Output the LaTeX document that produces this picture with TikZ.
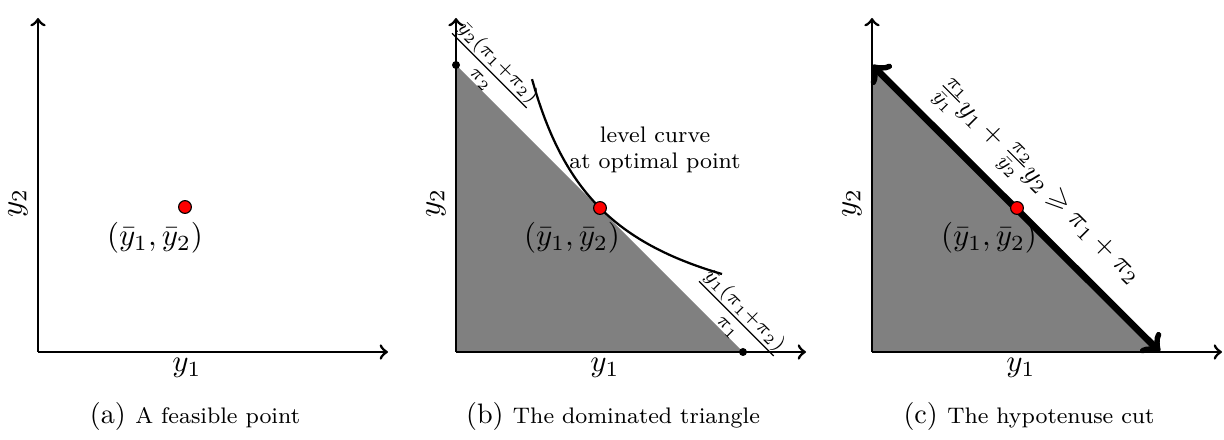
\documentclass[tikz,border=0pt]{standalone}
\usepackage{amsmath}
\usepackage{amssymb}
\usepackage{xcolor}
\usepackage{tikz}
\definecolor{cDot}{RGB}{255,0,0}
\definecolor{cRegion}{RGB}{128,128,128}

\begin{document}
\begin{tikzpicture}[x=0.0125cm,y=0.0125cm,
  axis/.style={line width=1pt,->},
  lbl/.style={font=\normalsize,scale=1.1},
  optpt/.style={circle,draw=black,fill=cDot,inner sep=0pt,minimum size=0.16cm},
  endpt/.style={circle,fill=black,inner sep=0pt,minimum size=0.1cm}]
\useasboundingbox (0,0) rectangle (1224,440);
% (a) a feasible point
\coordinate (oA) at (38,88);
\coordinate (yA) at (38,422);
\coordinate (xA) at (388,88);
\draw[axis] (oA) -- (yA);
\draw[axis] (oA) -- (xA);
\node[optpt] (ptA) at (185,233) {};
\node[lbl] (lblA) at (155,202) {$(\bar{y}_1,\bar{y}_2)$};
\node[lbl,rotate=90] (ytwoA) at (18,237) {$y_2$};
\node[lbl] (yoneA) at (187,72) {$y_1$};
\node (capA) at (195,24) {(a) {\footnotesize A feasible point}};
% (b) the dominated triangle
\coordinate (oB) at (456,88);
\coordinate (yB) at (456,422);
\coordinate (xB) at (806,88);
\coordinate (tB) at (456,375);
\coordinate (rB) at (743,88);
\fill[cRegion] (tB) -- (oB) -- (rB) -- cycle;
\draw[axis] (oB) -- (yB);
\draw[axis] (oB) -- (xB);
\draw[thick,domain=76:266,samples=60] plot ({456+\x},{88+144*(144/\x)});
\node[endpt] (dotT) at (tB) {};
\node[endpt] (dotR) at (rB) {};
\node[optpt] (ptB) at (600,232) {};
\node[lbl] (lblB) at (572,202) {$(\bar{y}_1,\bar{y}_2)$};
\node[lbl,rotate=90] (ytwoB) at (436,237) {$y_2$};
\node[lbl] (yoneB) at (605,72) {$y_1$};
\node[rotate=-45] (fracT) at (490,370) {$\frac{\bar{y}_2(\pi_1+\pi_2)}{\pi_2}$};
\node[rotate=-45] (fracR) at (737,122) {$\frac{\bar{y}_1(\pi_1+\pi_2)}{\pi_1}$};
\node[font=\footnotesize,align=center] (lvl) at (655,290) {level curve\\at optimal point};
\node (capB) at (613,24) {(b) {\footnotesize The dominated triangle}};
% (c) the hypotenuse cut
\coordinate (oC) at (872,88);
\coordinate (yC) at (872,422);
\coordinate (xC) at (1222,88);
\coordinate (tC) at (872,375);
\coordinate (rC) at (1160,88);
\fill[cRegion] (tC) -- (oC) -- (rC) -- cycle;
\draw[axis] (oC) -- (yC);
\draw[axis] (oC) -- (xC);
\draw[line width=2.4pt,<->] (tC) -- (rC);
\node[optpt] (ptC) at (1017,232) {};
\node[lbl] (lblC) at (989,202) {$(\bar{y}_1,\bar{y}_2)$};
\node[lbl,rotate=90] (ytwoC) at (852,237) {$y_2$};
\node[lbl] (yoneC) at (1021,72) {$y_1$};
\node[rotate=-45] (cut) at (1036,256) {$\frac{\pi_1}{\bar{y}_1}y_1+\frac{\pi_2}{\bar{y}_2}y_2\geqslant\pi_1+\pi_2$};
\node (capC) at (1029,24) {(c) {\footnotesize The hypotenuse cut}};
\end{tikzpicture}
\end{document}
